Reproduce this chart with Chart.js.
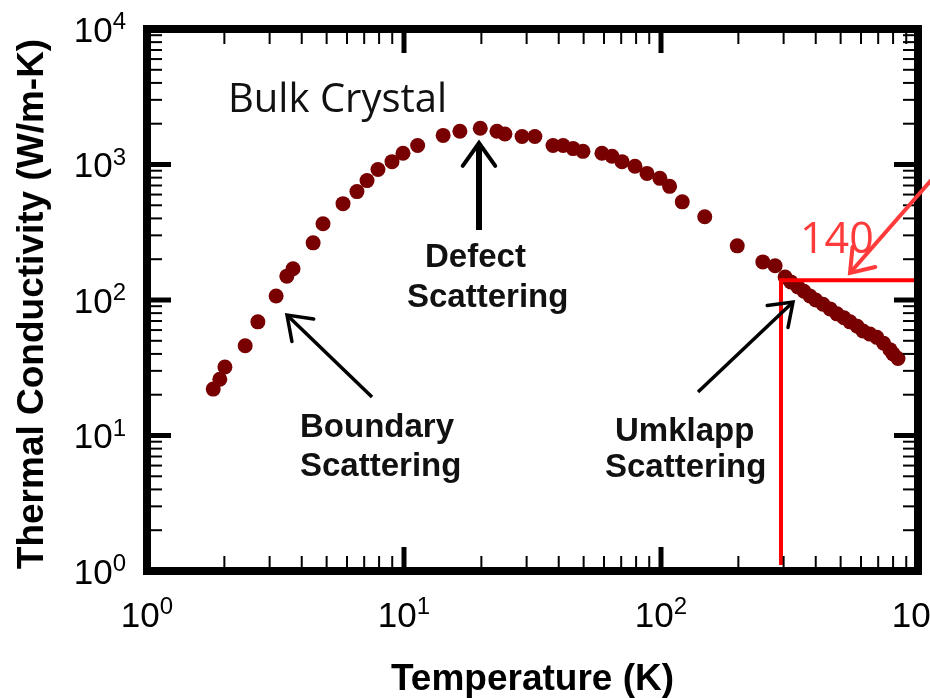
<!DOCTYPE html>
<html>
<head>
<meta charset="utf-8">
<title>Thermal Conductivity - Bulk Crystal</title>
<script src="https://cdn.jsdelivr.net/npm/chart.js@4.4.1/dist/chart.umd.min.js"></script>
<style>
  html, body { margin: 0; padding: 0; background: #fff; }
  #wrap { width: 930px; height: 698px; }
</style>
</head>
<body>
<div id="wrap"><canvas id="chart" width="930" height="698"></canvas></div>
<script>
// === Data ===
const temperatures = [
  1.81, 1.92, 2.01, 2.41, 2.70, 3.18, 3.50, 3.70, 4.43, 4.84,
  5.79, 6.56, 7.18, 7.92, 8.98, 9.91, 11.3, 14.2, 16.5, 19.8,
  23.0, 24.7, 28.8, 32.3, 38.0, 41.6, 45.5, 49.7, 58.9, 64.5,
  70.5, 79.2, 88.2, 99.0, 108, 121, 148, 198, 249, 278,
  304, 320, 341, 360, 380, 400, 427, 455, 484, 515,
  544, 580, 611, 650, 692, 735, 778, 800, 836
];
const conductivity = [
  22, 26, 32, 46, 69, 107, 150, 170, 264, 365,
  514, 631, 761, 918, 1050, 1210, 1380, 1640, 1760, 1850,
  1760, 1680, 1610, 1610, 1380, 1380, 1310, 1250, 1210, 1150,
  1050, 970, 860, 790, 690, 530, 412, 251, 191, 179,
  148, 136, 125, 116, 107, 100, 93, 86, 79, 74,
  69, 64, 59, 56, 53, 48, 43, 40, 37
];

// axis decades and their exponent labels
const xTickValues = [1, 10, 100, 1000];
const xTickExponents = ['0', '1', '2', '3'];
const yTickValues = [1, 10, 100, 1000, 10000];
const yTickExponents = ['0', '1', '2', '3', '4'];

// room-temperature marker (red guide lines)
const roomTemp = 293;
const roomConductivity = 140;
const roomLabel = '140';

// === Helpers ===
function minorTicks(decades) {
  const out = [];
  for (let i = 0; i < decades.length - 1; i++) {
    for (let m = 2; m <= 9; m++) out.push(m * decades[i]);
  }
  return out;
}

function line(ctx, x1, y1, x2, y2) {
  ctx.beginPath();
  ctx.moveTo(x1, y1);
  ctx.lineTo(x2, y2);
  ctx.stroke();
}

function arrow(ctx, fromX, fromY, tipX, tipY, shaftW, headW, headLen, color) {
  const ang = Math.atan2(tipY - fromY, tipX - fromX);
  const spread = 0.62;
  ctx.strokeStyle = color;
  ctx.lineCap = 'butt';
  ctx.lineWidth = shaftW;
  line(ctx, fromX, fromY, tipX - Math.cos(ang) * shaftW * 0.4, tipY - Math.sin(ang) * shaftW * 0.4);
  ctx.lineWidth = headW;
  ctx.lineCap = 'round';
  ctx.lineJoin = 'miter';
  ctx.beginPath();
  ctx.moveTo(tipX - headLen * Math.cos(ang - spread), tipY - headLen * Math.sin(ang - spread));
  ctx.lineTo(tipX, tipY);
  ctx.lineTo(tipX - headLen * Math.cos(ang + spread), tipY - headLen * Math.sin(ang + spread));
  ctx.stroke();
}

// "10" followed by a raised exponent
function powerLabel(ctx, exp, x, centerY, align) {
  const big = '35px "Liberation Sans", Arial, sans-serif';
  const small = '24px "Liberation Sans", Arial, sans-serif';
  ctx.font = big;
  const wBase = ctx.measureText('10').width;
  ctx.font = small;
  const wExp = ctx.measureText(exp).width;
  const total = wBase + wExp;
  let left = align === 'right' ? x - total : x - total / 2;
  ctx.textAlign = 'left';
  ctx.textBaseline = 'alphabetic';
  ctx.font = big;
  ctx.fillText('10', left, centerY + 12.5);
  ctx.font = small;
  ctx.fillText(exp, left + wBase, centerY);
}

// === Frame, inside ticks, labels and annotations ===
const decorations = {
  id: 'decorations',
  afterDatasetsDraw(chart) {
    const { ctx, chartArea: a, scales: { x, y } } = chart;
    const edge = 4;
    ctx.save();

    // red guide lines at room temperature
    const rx = x.getPixelForValue(roomTemp);
    const ry = y.getPixelForValue(roomConductivity);
    ctx.strokeStyle = '#ff0000';
    ctx.lineWidth = 4;
    ctx.lineCap = 'butt';
    ctx.beginPath();
    ctx.moveTo(rx, a.bottom - edge - 2);
    ctx.lineTo(rx, ry);
    ctx.lineTo(a.right - edge, ry);
    ctx.stroke();

    // tick marks on all four sides, pointing inward
    ctx.strokeStyle = '#000';
    ctx.lineCap = 'butt';
    const xMinor = minorTicks(xTickValues);
    const yMinor = minorTicks(yTickValues);
    xTickValues.concat(xMinor).forEach(v => {
      const major = xTickValues.includes(v);
      const px = x.getPixelForValue(v);
      const len = major ? 20 : 11;
      ctx.lineWidth = major ? 5 : 2;
      line(ctx, px, a.bottom - edge, px, a.bottom - edge - len);
      line(ctx, px, a.top + edge, px, a.top + edge + len);
    });
    yTickValues.concat(yMinor).forEach(v => {
      const major = yTickValues.includes(v);
      const py = y.getPixelForValue(v);
      const len = major ? 20 : 11;
      ctx.lineWidth = major ? 5 : 2;
      line(ctx, a.left + edge, py, a.left + edge + len, py);
      line(ctx, a.right - edge, py, a.right - edge - len, py);
    });

    // thick box
    ctx.lineWidth = 8;
    ctx.lineJoin = 'miter';
    ctx.strokeRect(a.left, a.top, a.right - a.left, a.bottom - a.top);

    // tick labels
    ctx.fillStyle = '#000';
    xTickValues.forEach((v, i) => powerLabel(ctx, xTickExponents[i], x.getPixelForValue(v), 614, 'center'));
    yTickValues.forEach((v, i) => powerLabel(ctx, yTickExponents[i], 126, y.getPixelForValue(v), 'right'));

    // axis titles
    ctx.font = 'bold 37px "Liberation Sans", Arial, sans-serif';
    ctx.textAlign = 'center';
    ctx.textBaseline = 'alphabetic';
    ctx.fillText('Temperature (K)', (a.left + a.right) / 2, 690);
    ctx.save();
    ctx.translate(43, (a.top + a.bottom) / 2 + 4);
    ctx.rotate(-Math.PI / 2);
    ctx.fillText('Thermal Conductivity (W/m-K)', 0, 0);
    ctx.restore();

    // annotations
    ctx.fillStyle = '#111';
    ctx.textAlign = 'left';
    ctx.font = '40px "Open Sans", "Noto Sans", sans-serif';
    ctx.fillText('Bulk Crystal', 228, 112);

    ctx.font = 'bold 33px "Liberation Sans", Arial, sans-serif';
    ctx.fillText('Defect', 425, 267);
    ctx.fillText('Scattering', 407, 307);
    ctx.fillText('Boundary', 300, 437);
    ctx.fillText('Scattering', 300, 476);
    ctx.fillText('Umklapp', 615, 441);
    ctx.fillText('Scattering', 605, 477);

    arrow(ctx, 479, 230, 479, 143, 6, 4, 28, '#000');
    arrow(ctx, 372, 397, 287, 315, 3.5, 3.5, 27, '#000');
    arrow(ctx, 698, 392, 793, 302, 3.5, 3.5, 26, '#000');

    // red label and arrow
    ctx.fillStyle = '#ff3a3a';
    ctx.font = '43px "Open Sans", "Noto Sans", sans-serif';
    ctx.fillText(roomLabel, 800, 253);
    arrow(ctx, 940, 170, 850, 273, 4, 4, 26, '#ff3a3a');

    ctx.restore();
  }
};

// === Chart ===
const ctxChart = document.getElementById('chart');
new Chart(ctxChart, {
  type: 'scatter',
  data: {
    datasets: [{
      label: 'Bulk Crystal',
      data: temperatures.map((t, i) => ({ x: t, y: conductivity[i] })),
      backgroundColor: '#780000',
      borderWidth: 0,
      pointRadius: 7.5,
      pointHoverRadius: 7.5
    }]
  },
  options: {
    responsive: false,
    animation: false,
    events: [],
    layout: { padding: { top: 29, right: 12, left: 0, bottom: 0 } },
    plugins: {
      legend: { display: false },
      tooltip: { enabled: false }
    },
    scales: {
      x: {
        type: 'logarithmic',
        min: 1,
        max: 1000,
        grid: { display: false },
        border: { display: false },
        ticks: { display: false },
        afterFit(scale) { scale.height = 127; }
      },
      y: {
        type: 'logarithmic',
        min: 1,
        max: 10000,
        grid: { display: false },
        border: { display: false },
        ticks: { display: false },
        afterFit(scale) { scale.width = 147; }
      }
    }
  },
  plugins: [decorations]
});
</script>
</body>
</html>
